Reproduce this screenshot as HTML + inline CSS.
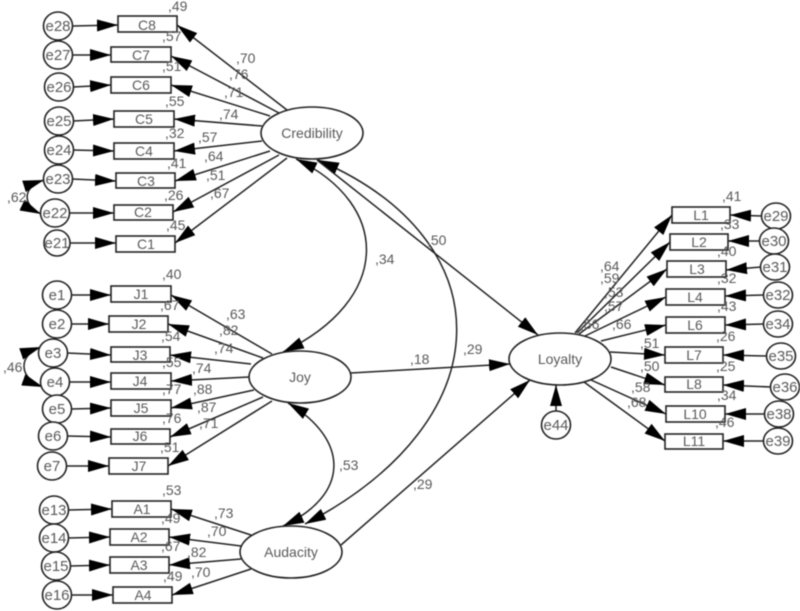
<!DOCTYPE html>
<html><head><meta charset="utf-8"><style>
html,body{margin:0;padding:0;background:#fff}
svg{display:block;filter:blur(.5px)}
text{font-family:"Liberation Sans",Arial,sans-serif;fill:#5a5a5a;font-size:14px}
.c text{text-anchor:middle}
.l line,.l path{stroke:#222;stroke-width:1.5;fill:none;marker-end:url(#a)}
.l path.b{marker-start:url(#a)}
.n rect,.n ellipse{fill:#fff;stroke:#222;stroke-width:1.6}
.e text{font-size:15px;text-anchor:middle}
</style></head><body>
<svg width="800" height="611" viewBox="0 0 800 611" xmlns="http://www.w3.org/2000/svg">
<defs><marker id="a" markerUnits="userSpaceOnUse" markerWidth="21" markerHeight="12" refX="21" refY="6" orient="auto-start-reverse"><path d="M0,0L21,6L0,12z" fill="#000"/></marker></defs>
<g class="l">
<line x1="73" y1="26" x2="118" y2="25"/><line x1="73" y1="55" x2="111" y2="55"/><line x1="73" y1="87" x2="111" y2="85"/><line x1="73" y1="121" x2="114" y2="119"/><line x1="73" y1="150" x2="114" y2="151"/><line x1="72" y1="179" x2="116" y2="181"/><line x1="69" y1="213" x2="114" y2="213"/><line x1="70" y1="243" x2="116" y2="243"/>
<line x1="287" y1="110" x2="177" y2="25"/><line x1="279" y1="113" x2="171" y2="56"/><line x1="270" y1="116" x2="171" y2="85"/><line x1="262" y1="126" x2="174" y2="119"/><line x1="262" y1="141" x2="174" y2="151"/><line x1="270" y1="151" x2="175" y2="181"/><line x1="279" y1="155" x2="173" y2="212"/><line x1="287" y1="158" x2="175" y2="243"/>
<line x1="71" y1="295" x2="111" y2="295"/><line x1="71" y1="324" x2="109" y2="324"/><line x1="67" y1="353" x2="111" y2="355"/><line x1="69" y1="382" x2="111" y2="382"/><line x1="71" y1="409" x2="111" y2="408"/><line x1="67" y1="436" x2="111" y2="437"/><line x1="66" y1="466" x2="109" y2="466"/>
<line x1="272" y1="354" x2="171" y2="295"/><line x1="263" y1="358" x2="168" y2="324"/><line x1="251" y1="364" x2="170" y2="355"/><line x1="249" y1="377" x2="171" y2="381"/><line x1="254" y1="390" x2="171" y2="408"/><line x1="263" y1="397" x2="170" y2="437"/><line x1="272" y1="401" x2="168" y2="466"/>
<line x1="68" y1="510" x2="112" y2="509"/><line x1="68" y1="538" x2="110" y2="537"/><line x1="70" y1="566" x2="110" y2="565"/><line x1="71" y1="595" x2="113" y2="595"/>
<line x1="251" y1="535" x2="171" y2="509"/><line x1="241" y1="546" x2="169" y2="537"/><line x1="241" y1="559" x2="169" y2="565"/><line x1="251" y1="569" x2="172" y2="595"/>
<line x1="762" y1="216" x2="730" y2="215"/><line x1="760" y1="241" x2="728" y2="241"/><line x1="761" y1="267" x2="726" y2="270"/><line x1="764" y1="295" x2="725" y2="296"/><line x1="764" y1="324" x2="725" y2="325"/><line x1="767" y1="356" x2="723" y2="355"/><line x1="771" y1="387" x2="723" y2="385"/><line x1="765" y1="414" x2="725" y2="414"/><line x1="764" y1="441" x2="723" y2="441"/>
<line x1="575" y1="333" x2="672" y2="215"/><line x1="577" y1="333" x2="670" y2="242"/><line x1="579" y1="334" x2="667" y2="269"/><line x1="585" y1="336" x2="666" y2="297"/><line x1="601" y1="341" x2="666" y2="325"/><line x1="610" y1="352" x2="665" y2="355"/><line x1="611" y1="367" x2="665" y2="385"/><line x1="591" y1="380" x2="666" y2="414"/><line x1="584" y1="382" x2="665" y2="441"/>
<line x1="556" y1="411" x2="556" y2="385"/>
<line x1="317" y1="160" x2="538" y2="335"/><line x1="351" y1="373" x2="510" y2="364"/><line x1="341" y1="545" x2="530" y2="380"/>
<path class="b" d="M296,159C392,205 392,300 283,352"/>
<path class="b" d="M318,160C505,240 505,420 305,524"/>
<path class="b" d="M288,403C350,440 350,495 283,526"/>
<path class="b" d="M44,180C22,187 22,205 41,214"/>
<path class="b" d="M41,347C18,355 18,378 43,387"/>
</g>
<g class="n c">
<rect x="118" y="16" width="59" height="16"/><text x="147" y="30">C8</text>
<rect x="111" y="47" width="60" height="15"/><text x="141" y="60">C7</text>
<rect x="111" y="77" width="60" height="16"/><text x="141" y="90">C6</text>
<rect x="114" y="111" width="60" height="16"/><text x="144" y="124">C5</text>
<rect x="114" y="143" width="60" height="16"/><text x="144" y="156">C4</text>
<rect x="116" y="173" width="59" height="15"/><text x="146" y="186">C3</text>
<rect x="114" y="205" width="59" height="15"/><text x="143" y="217">C2</text>
<rect x="116" y="236" width="59" height="16"/><text x="146" y="249">C1</text>
<rect x="111" y="286" width="60" height="16"/><text x="141" y="299">J1</text>
<rect x="109" y="316" width="59" height="16"/><text x="139" y="329">J2</text>
<rect x="111" y="347" width="59" height="15"/><text x="140" y="360">J3</text>
<rect x="111" y="373" width="60" height="16"/><text x="140" y="386">J4</text>
<rect x="111" y="400" width="60" height="16"/><text x="141" y="413">J5</text>
<rect x="111" y="429" width="59" height="15"/><text x="140" y="441">J6</text>
<rect x="109" y="458" width="59" height="16"/><text x="139" y="471">J7</text>
<rect x="112" y="501" width="59" height="16"/><text x="142" y="514">A1</text>
<rect x="110" y="529" width="59" height="16"/><text x="139" y="542">A2</text>
<rect x="110" y="557" width="59" height="16"/><text x="139" y="570">A3</text>
<rect x="113" y="587" width="59" height="16"/><text x="143" y="600">A4</text>
<rect x="672" y="207" width="58" height="16"/><text x="701" y="220">L1</text>
<rect x="670" y="234" width="58" height="16"/><text x="699" y="247">L2</text>
<rect x="667" y="261" width="59" height="16"/><text x="697" y="274">L3</text>
<rect x="666" y="289" width="59" height="16"/><text x="695" y="302">L4</text>
<rect x="666" y="317" width="59" height="16"/><text x="695" y="330">L6</text>
<rect x="665" y="347" width="58" height="16"/><text x="694" y="360">L7</text>
<rect x="665" y="377" width="58" height="15"/><text x="694" y="389">L8</text>
<rect x="666" y="406" width="59" height="16"/><text x="695" y="419">L10</text>
<rect x="665" y="434" width="58" height="15"/><text x="694" y="446">L11</text>
<ellipse cx="312" cy="133" rx="51" ry="26"/><text x="312" y="138">Credibility</text>
<ellipse cx="300" cy="377" rx="51" ry="26"/><text x="300" y="382">Joy</text>
<ellipse cx="291" cy="552" rx="51" ry="26"/><text x="291" y="557">Audacity</text>
<ellipse cx="560" cy="359" rx="51" ry="26"/><text x="560" y="364">Loyalty</text>
</g>
<g class="n e">
<ellipse cx="58" cy="26" rx="14.5" ry="14"/><text x="58" y="31">e28</text>
<ellipse cx="58" cy="55" rx="14.5" ry="14"/><text x="58" y="60">e27</text>
<ellipse cx="59" cy="87" rx="14.5" ry="14"/><text x="59" y="92">e26</text>
<ellipse cx="59" cy="121" rx="14.5" ry="14"/><text x="59" y="126">e25</text>
<ellipse cx="59" cy="150" rx="14.5" ry="14"/><text x="59" y="155">e24</text>
<ellipse cx="58" cy="179" rx="14.5" ry="14"/><text x="58" y="184">e23</text>
<ellipse cx="55" cy="213" rx="14.5" ry="14"/><text x="55" y="218">e22</text>
<ellipse cx="57" cy="243" rx="13" ry="13"/><text x="57" y="248">e21</text>
<ellipse cx="57" cy="295" rx="14.5" ry="14"/><text x="57" y="300">e1</text>
<ellipse cx="57" cy="324" rx="14.5" ry="14"/><text x="57" y="329">e2</text>
<ellipse cx="53" cy="353" rx="14.5" ry="14"/><text x="53" y="358">e3</text>
<ellipse cx="55" cy="382" rx="14.5" ry="14"/><text x="55" y="387">e4</text>
<ellipse cx="57" cy="409" rx="14.5" ry="14"/><text x="57" y="414">e5</text>
<ellipse cx="53" cy="436" rx="14.5" ry="14"/><text x="53" y="441">e6</text>
<ellipse cx="52" cy="466" rx="14.5" ry="14"/><text x="52" y="471">e7</text>
<ellipse cx="54" cy="510" rx="14.5" ry="14"/><text x="54" y="515">e13</text>
<ellipse cx="54" cy="538" rx="14.5" ry="14"/><text x="54" y="543">e14</text>
<ellipse cx="56" cy="566" rx="14.5" ry="14"/><text x="56" y="571">e15</text>
<ellipse cx="57" cy="595" rx="14.5" ry="14"/><text x="57" y="600">e16</text>
<ellipse cx="776" cy="216" rx="14.5" ry="13"/><text x="776" y="221">e29</text>
<ellipse cx="774" cy="241" rx="14.5" ry="13"/><text x="774" y="246">e30</text>
<ellipse cx="775" cy="267" rx="14.5" ry="13"/><text x="775" y="272">e31</text>
<ellipse cx="778" cy="295" rx="14.5" ry="13"/><text x="778" y="300">e32</text>
<ellipse cx="778" cy="324" rx="14.5" ry="13"/><text x="778" y="329">e34</text>
<ellipse cx="781" cy="356" rx="14.5" ry="13"/><text x="781" y="361">e35</text>
<ellipse cx="785" cy="387" rx="14.5" ry="13"/><text x="785" y="392">e36</text>
<ellipse cx="779" cy="414" rx="14.5" ry="13"/><text x="779" y="419">e38</text>
<ellipse cx="778" cy="441" rx="14.5" ry="13"/><text x="778" y="446">e39</text>
<ellipse cx="556" cy="425" rx="14.5" ry="14"/><text x="556" y="430">e44</text>
</g>
<g>
<text x="168" y="11">,49</text><text x="162" y="41">,57</text><text x="162" y="71">,51</text><text x="165" y="106">,55</text><text x="165" y="138">,32</text><text x="167" y="168">,41</text><text x="164" y="200">,26</text><text x="166" y="230">,45</text>
<text x="236" y="63">,70</text><text x="229" y="79">,76</text><text x="224" y="97">,71</text><text x="219" y="119">,74</text><text x="198" y="142">,57</text><text x="204" y="161">,64</text><text x="206" y="180">,51</text><text x="210" y="198">,67</text><text x="375" y="264">,34</text>
<text x="162" y="279">,40</text><text x="160" y="310">,67</text><text x="161" y="341">,54</text><text x="162" y="367">,55</text><text x="162" y="394">,77</text><text x="162" y="423">,76</text><text x="160" y="452">,51</text>
<text x="226" y="319">,63</text><text x="219" y="335">,82</text><text x="214" y="353">,74</text><text x="192" y="373">,74</text><text x="193" y="394">,88</text><text x="197" y="412">,87</text><text x="199" y="428">,71</text>
<text x="3" y="372">,46</text><text x="7" y="202">,62</text><text x="339" y="470">,53</text>
<text x="162" y="495">,53</text><text x="161" y="523">,49</text><text x="161" y="551">,67</text><text x="163" y="581">,49</text>
<text x="214" y="518">,73</text><text x="207" y="536">,70</text><text x="187" y="557">,82</text><text x="191" y="577">,70</text>
<text x="427" y="245">,50</text><text x="463" y="354">,29</text><text x="410" y="364">,18</text><text x="413" y="489">,29</text>
<text x="722" y="201">,41</text><text x="720" y="229">,33</text><text x="717" y="256">,40</text><text x="717" y="283">,32</text><text x="717" y="311">,43</text><text x="716" y="341">,26</text><text x="716" y="371">,25</text><text x="717" y="400">,34</text><text x="715" y="427">,46</text>
<text x="600" y="271">,64</text><text x="600" y="283">,59</text><text x="604" y="297">,53</text><text x="604" y="311">,57</text><text x="580" y="329">,56</text><text x="612" y="329">,66</text><text x="640" y="348">,51</text><text x="640" y="371">,50</text><text x="631" y="392">,58</text><text x="627" y="407">,68</text>
</g>
</svg>
</body></html>
